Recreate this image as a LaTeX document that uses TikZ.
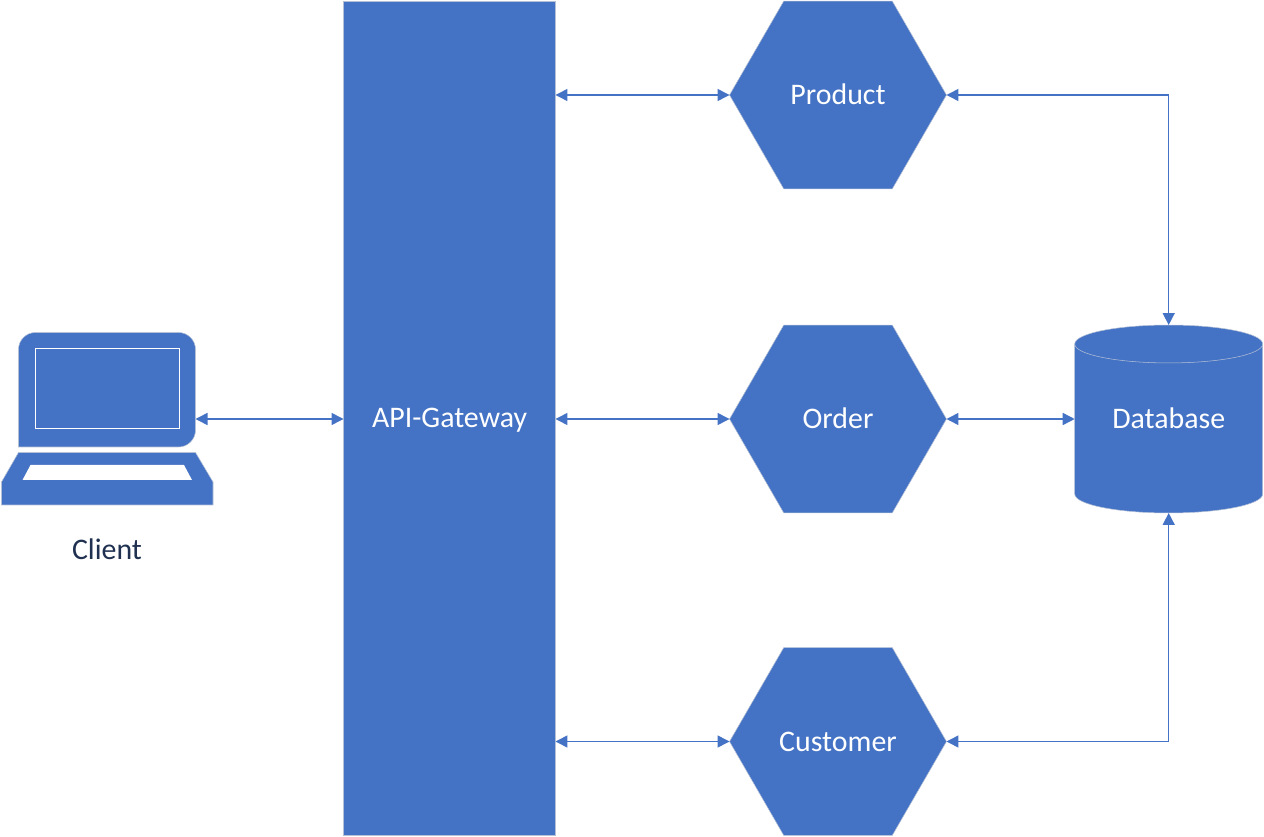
\documentclass[tikz,border=0pt]{standalone}
\usepackage{fontspec}
\setmainfont{Carlito}
\usetikzlibrary{arrows.meta,shapes.geometric}
\definecolor{blockblue}{HTML}{4472C4}
\definecolor{blockedge}{HTML}{B4C0D6}
\definecolor{clienttext}{HTML}{1F3050}
\begin{document}
\begin{tikzpicture}[x=0.02cm,y=-0.02cm,inner sep=0pt,outer sep=0pt,
line width=0.03cm,
block/.style={fill=blockblue,draw=blockedge,line width=.3pt,text=white,font=\fontsize{17}{20}\selectfont,text height=.38cm,text depth=0pt},
gateway/.style={block,rectangle,minimum width=4.24cm,minimum height=16.68cm},
service/.style={block,regular polygon,regular polygon sides=6,minimum size=4.34cm},
database/.style={block,cylinder,shape border rotate=90,shape aspect=0.336,minimum width=3.76cm,minimum height=3.76cm,anchor=shape center,text depth=.37cm},
link/.style={blockblue,{Triangle[length=.24cm,width=.24cm]}-{Triangle[length=.24cm,width=.24cm]}}]
\useasboundingbox (0,0) rectangle (1264,837);
\draw (449.5,418.5) node[gateway] (Gateway) {API-Gateway};
\draw (838,95) node[service] (Product) {Product};
\draw (838,419) node[service] (Order) {Order};
\draw (838,741.5) node[service] (Customer) {Customer};
\draw (1168.7,419) node[database] (Database) {Database};
% laptop
\path[fill=blockblue,draw=blockedge,line width=.3pt,rounded corners=.34cm] (18.5,447) -- (18.5,332.5) -- (195.5,332.5) -- (195.5,447) [sharp corners] -- cycle;
\draw (107.5,388.5) node[draw=white,line width=.4pt,minimum width=2.88cm,minimum height=1.59cm] (Screen) {};
\path[fill=blockblue,draw=blockedge,line width=.3pt] (18.5,452.5) -- (195.5,452.5) -- (213,482) -- (213,505) -- (1.5,505) -- (1.5,482) -- cycle;
\path[fill=white] (30.5,465) -- (184,465) -- (192,480) -- (22.5,480) -- cycle;
\coordinate (Laptop) at (195.5,419);
\draw (107,549) node[text=clienttext,font=\fontsize{17}{20}\selectfont] (Client) {Client};
% connectors
\draw[link] (Laptop) -- (Laptop -| Gateway.west);
\draw[link] (Gateway.east |- Product.west) -- (Product.west);
\draw[link] (Gateway.east |- Order.west) -- (Order.west);
\draw[link] (Gateway.east |- Customer.west) -- (Customer.west);
\draw[link] (Order.east) -- (Order.east -| Database.west);
\draw[link] (Product.east) -| (Database.90);
\draw[link] (Customer.east) -| (Database.270);
\end{tikzpicture}
\end{document}
